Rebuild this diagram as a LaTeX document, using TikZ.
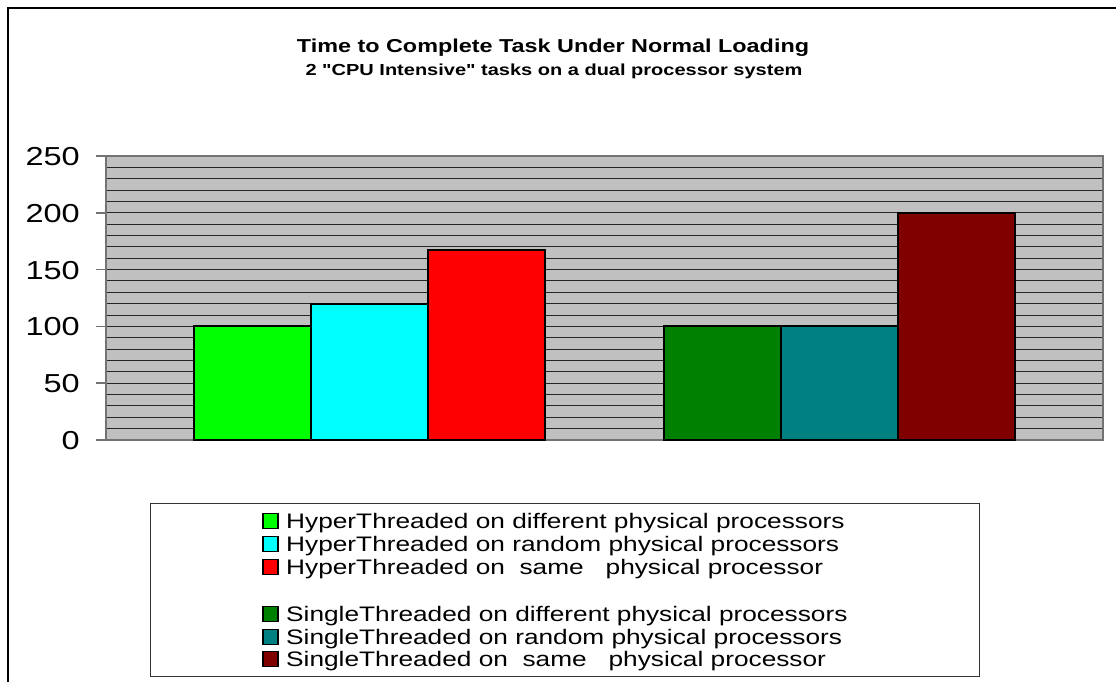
\documentclass[tikz,border=0pt]{standalone}
\usepackage{fontspec}
\setmainfont{Liberation Sans}[FakeStretch=1.25]
% same face without TeX ligatures, so that " stays a straight quote
\newfontfamily\plainq{Liberation Sans}[FakeStretch=1.25]
\begin{document}
\begin{tikzpicture}[x=1pt,y=-1pt,
  frameline/.style={draw=black,line width=2pt},
  gridline/.style={draw=black!85,line width=1pt},
  plotedge/.style={draw=gray!90!black,line width=2.2pt},
  tickline/.style={draw=gray!90!black,line width=1.5pt},
  bar/.style={draw=black,line width=2pt,inner sep=0pt,outer sep=0pt,anchor=south west},
  ylab/.style={anchor=base east,font=\fontsize{26}{26}\selectfont,inner sep=0pt},
  swatch/.style={draw=black,line width=1.8pt,minimum width=15pt,minimum height=15pt,inner sep=0pt},
  legtext/.style={anchor=base west,font=\fontsize{21}{21}\selectfont,inner sep=0pt},
]
\definecolor{plotgray}{HTML}{C0C0C0}
\definecolor{cgreen}{HTML}{00FF00}
\definecolor{ccyan}{HTML}{00FFFF}
\definecolor{cred}{HTML}{FF0000}
\definecolor{cdgreen}{HTML}{008000}
\definecolor{cteal}{HTML}{008080}
\definecolor{cmaroon}{HTML}{800000}

\useasboundingbox (0,0) rectangle (1116,681);
\fill[white] (0,0) rectangle (1116,681);

% chart frame (runs past the page edge on the right and bottom)
\draw[frameline] (1130,8) -- (8,8) -- (8,700);

% titles
\node[anchor=base,font=\bfseries\fontsize{18.7}{20}\selectfont,inner sep=0pt] (title) at (553,52) {Time to Complete Task Under Normal Loading};
\node[anchor=base,font=\plainq\bfseries\fontsize{16}{16}\selectfont,inner sep=0pt] (subtitle) at (554,75) {2 "CPU Intensive" tasks on a dual processor system};

% plot area with grid every 10 units (1 unit = 1.136pt)
\fill[plotgray] (106,156) rectangle (1103,440);
\foreach \k in {1,...,24} {
  \draw[gridline] (106,{440-11.36*\k}) -- (1103,{440-11.36*\k});
}
\draw[plotedge] (106,156) rectangle (1103,440);

% y axis ticks and labels
\foreach \v in {0,50,...,250} {
  \draw[tickline] (96,{440-1.136*\v}) -- (106,{440-1.136*\v});
  \node[ylab] (y\v) at (80,{440-1.136*\v+9.5}) {\v};
}

% bars (value v -> height 1.136 v)
\foreach \name/\x/\v/\c in {b1/194/100/cgreen, b2/311/120/ccyan, b3/428/167/cred,
                           b4/664/100/cdgreen, b5/781/100/cteal, b6/898/200/cmaroon} {
  \node[bar,fill=\c,minimum width=117pt,minimum height={1.136*\v*1pt}] (\name) at (\x,440) {};
}

% legend
\node[draw=black!80,line width=1.2pt,minimum width=829pt,minimum height=173pt,anchor=north west,inner sep=0pt] (legend) at (150,503) {};
\foreach \n/\y/\c/\t in {
  l1/521/cgreen/{HyperThreaded on different physical processors},
  l2/544/ccyan/{HyperThreaded on random physical processors},
  l3/567/cred/{HyperThreaded on\ \ same\ \ \ physical processor},
  l4/614/cdgreen/{SingleThreaded on different physical processors},
  l5/637/cteal/{SingleThreaded on random physical processors},
  l6/659/cmaroon/{SingleThreaded on\ \ same\ \ \ physical processor}} {
  \node[swatch,fill=\c] (s\n) at (270.5,\y) {};
  \node[legtext] (t\n) at (286,\y+7.5) {\t};
}
\end{tikzpicture}
\end{document}
